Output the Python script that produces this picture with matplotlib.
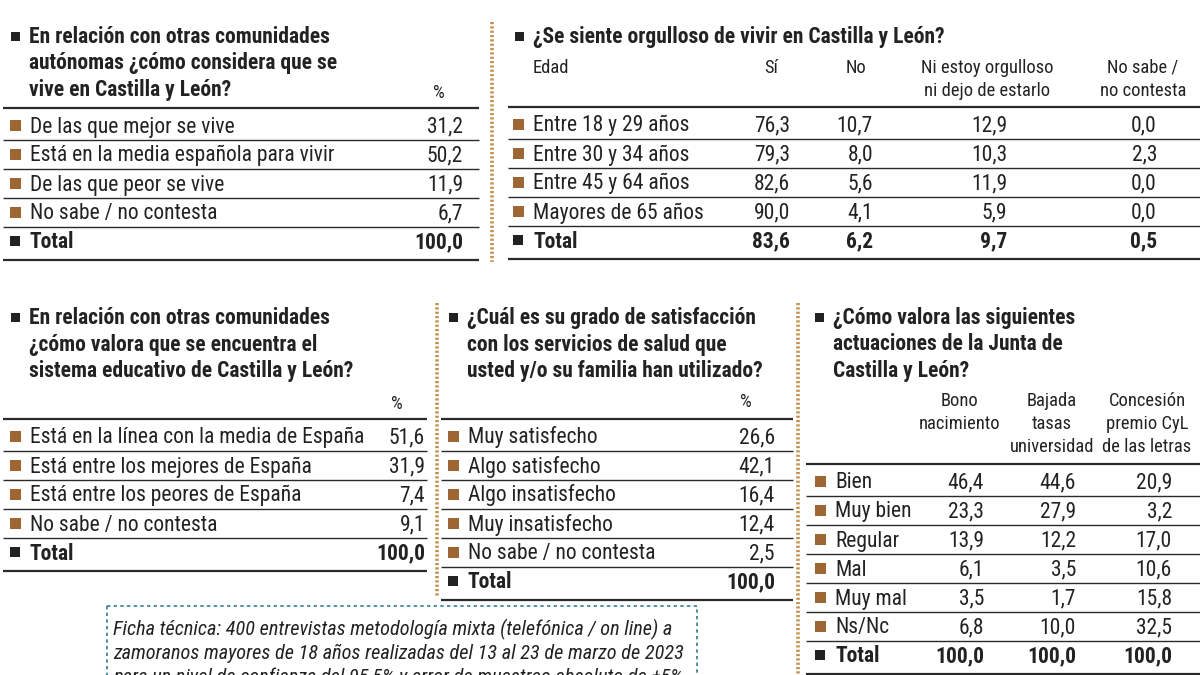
import matplotlib
matplotlib.use('Agg')
import matplotlib.pyplot as plt
from matplotlib import font_manager
from matplotlib.patches import Rectangle

# --- data ---
vive_labels = ['De las que mejor se vive', 'Está en la media española para vivir',
               'De las que peor se vive', 'No sabe / no contesta']
vive_values = [31.2, 50.2, 11.9, 6.7]
vive_total = [100.0]

orgullo_cols = ['Sí', 'No', 'Ni estoy orgulloso\nni dejo de estarlo', 'No sabe /\nno contesta']
orgullo_edades = ['Entre 18 y 29 años', 'Entre 30 y 34 años', 'Entre 45 y 64 años', 'Mayores de 65 años']
orgullo_si = [76.3, 79.3, 82.6, 90.0]
orgullo_no = [10.7, 8.0, 5.6, 4.1]
orgullo_ni = [12.9, 10.3, 11.9, 5.9]
orgullo_nsnc = [0.0, 2.3, 0.0, 0.0]
orgullo_total = [83.6, 6.2, 9.7, 0.5]

educ_labels = ['Está en la línea con la media de España', 'Está entre los mejores de España',
               'Está entre los peores de España', 'No sabe / no contesta']
educ_values = [51.6, 31.9, 7.4, 9.1]
educ_total = [100.0]

salud_labels = ['Muy satisfecho', 'Algo satisfecho', 'Algo insatisfecho',
                'Muy insatisfecho', 'No sabe / no contesta']
salud_values = [26.6, 42.1, 16.4, 12.4, 2.5]
salud_total = [100.0]

junta_cols = ['Bono\nnacimiento', 'Bajada\ntasas\nuniversidad', 'Concesión\npremio CyL\nde las letras']
junta_labels = ['Bien', 'Muy bien', 'Regular', 'Mal', 'Muy mal', 'Ns/Nc']
junta_bono = [46.4, 23.3, 13.9, 6.1, 3.5, 6.8]
junta_tasas = [44.6, 27.9, 12.2, 3.5, 1.7, 10.0]
junta_premio = [20.9, 3.2, 17.0, 10.6, 15.8, 32.5]
junta_total = [100.0, 100.0, 100.0]

ficha = ['Ficha técnica: 400 entrevistas metodología mixta (telefónica / on line) a',
         'zamoranos mayores de 18 años realizadas del 13 al 23 de marzo de 2023',
         'para un nivel de confianza del 95,5% y error de muestreo absoluto de ±5%']

# --- fonts: prefer a condensed sans if one is installed ---
entries = font_manager.fontManager.ttflist
names = {f.name for f in entries}
FONT = None
for fam in ['Liberation Sans Narrow', 'Roboto Condensed', 'Noto Sans Condensed',
            'Open Sans Condensed', 'DejaVu Sans Condensed']:
    if fam in names:
        FONT = dict(family=fam)
        break
if FONT is None:
    for fam in ['DejaVu Sans', 'Noto Sans', 'Roboto', 'Open Sans']:
        if any(f.name == fam and f.stretch == 'condensed' for f in entries):
            FONT = dict(family=fam, stretch='condensed')
            break
if FONT is None:
    FONT = dict(family='Roboto' if 'Roboto' in names else 'Liberation Sans')

BROWN = '#9d6632'
DARK = '#222222'
LINE = '#2a2a2a'
DOTS = '#c4904f'
TEAL = '#2f7f8c'
ROW_H = 29

fig = plt.figure(figsize=(12, 6.75), dpi=100)
ax = fig.add_axes([0, 0, 1, 1])
ax.set_xlim(0, 1200)
ax.set_ylim(675, 0)
ax.axis('off')
renderer = fig.canvas.get_renderer()


def fit(s, target, **kw):
    # font size whose rendered width matches the reference width
    t = ax.text(0, 0, s, fontsize=10, **FONT, **kw)
    w = t.get_window_extent(renderer).width
    t.remove()
    return 10 * target / w


BODY = min(fit('Está en la media española para vivir', 305), 15.5)
TITLE = min(fit('En relación con otras comunidades', 326, fontweight='bold'), 15.5)
HEAD = min(fit('Ni estoy orgulloso', 132), 14)
FOOT = min(fit(ficha[0], 557, style='italic'), 16)


def fmt(v):
    return f'{v:.1f}'.replace('.', ',')


def bullet(x, yc, color, size):
    ax.add_patch(Rectangle((x, yc - size / 2), size, size, color=color, lw=0))


def title(x, y, lines):
    bullet(x, y - 7, DARK, 9)
    for i, t in enumerate(lines):
        ax.text(x + 18, y + i * 26.5, t, fontsize=TITLE, fontweight='bold',
                color=DARK, va='baseline', ha='left', **FONT)


def hline(x0, x1, y, lw=1.0):
    ax.plot([x0, x1], [y, y], color=LINE, lw=lw, solid_capstyle='butt')


def table(x0, x1, bx, head_y, labels, cols, totals):
    hline(x0, x1, head_y, 1.6)
    rows = labels + ['Total']
    for i, lab in enumerate(rows):
        yc = head_y + 17 + ROW_H * i
        last = i == len(rows) - 1
        bullet(bx, yc, DARK if last else BROWN, 10 if last else 11)
        w = 'bold' if last else 'normal'
        ax.text(bx + 20, yc + 7.5, lab, fontsize=BODY, fontweight=w,
                color=DARK, va='baseline', ha='left', **FONT)
        for (vals, rx), tot in zip(cols, totals):
            v = tot if last else vals[i]
            ax.text(rx, yc + 7.5, fmt(v), fontsize=BODY, fontweight=w,
                    color=DARK, va='baseline', ha='right', **FONT)
        if not last:
            hline(x0, x1, yc + 14.5, 1.0)
        else:
            hline(x0, x1, yc + 19, 1.6)


def header(cx, y_base, text, step=23):
    for j, t in enumerate(text.split('\n')):
        ax.text(cx, y_base + j * step, t, fontsize=HEAD, color=DARK,
                va='baseline', ha='center', **FONT)


# panel 1
title(11, 43, ['En relación con otras comunidades', 'autónomas ¿cómo considera que se',
               'vive en Castilla y León?'])
header(439, 98, '%')
table(3, 479, 10, 108, vive_labels, [(vive_values, 463)], vive_total)

# panel 2
title(515, 43, ['¿Se siente orgulloso de vivir en Castilla y León?'])
ax.text(533, 73, 'Edad', fontsize=HEAD, color=DARK, va='baseline', ha='left', **FONT)
for name, cx in zip(orgullo_cols, [771, 856, 987, 1143]):
    header(cx, 73, name)
table(508, 1200, 513, 107, orgullo_edades,
      [(orgullo_si, 790), (orgullo_no, 873), (orgullo_ni, 1007), (orgullo_nsnc, 1157)],
      orgullo_total)

# panel 3
title(11, 324, ['En relación con otras comunidades', '¿cómo valora que se encuentra el',
                'sistema educativo de Castilla y León?'])
header(397, 409, '%')
table(3, 427, 10, 419, educ_labels, [(educ_values, 425)], educ_total)

# panel 4
title(449, 324, ['¿Cuál es su grado de satisfacción', 'con los servicios de salud que',
                 'usted y/o su familia han utilizado?'])
header(746, 407, '%')
table(441, 793, 448, 419, salud_labels, [(salud_values, 775)], salud_total)

# panel 5
title(815, 324, ['¿Cómo valora las siguientes', 'actuaciones de la Junta de', 'Castilla y León?'])
for name, cx in zip(junta_cols, [960, 1052, 1147]):
    header(cx, 406, name)
table(806, 1200, 815, 464, junta_labels,
      [(junta_bono, 984), (junta_tasas, 1076), (junta_premio, 1172)], junta_total)

# dotted separators
for x, y0, y1 in [(492, 22, 262), (437, 303, 596), (798, 303, 675)]:
    ax.plot([x, x], [y0, y1], color=DOTS, lw=2.6, linestyle=(0, (0.6, 0.6)))

# ficha tecnica box (its last line is cut by the bottom edge, as in the original)
ax.add_patch(Rectangle((107, 606), 590, 120, fill=False, edgecolor=TEAL, lw=1.2,
                       linestyle=(0, (2, 2))))
for i, t in enumerate(ficha):
    ax.text(113, 635 + 24 * i, t, fontsize=FOOT, style='italic',
            color=DARK, va='baseline', ha='left', **FONT)

fig.savefig('out.png', dpi=100, facecolor='white')
